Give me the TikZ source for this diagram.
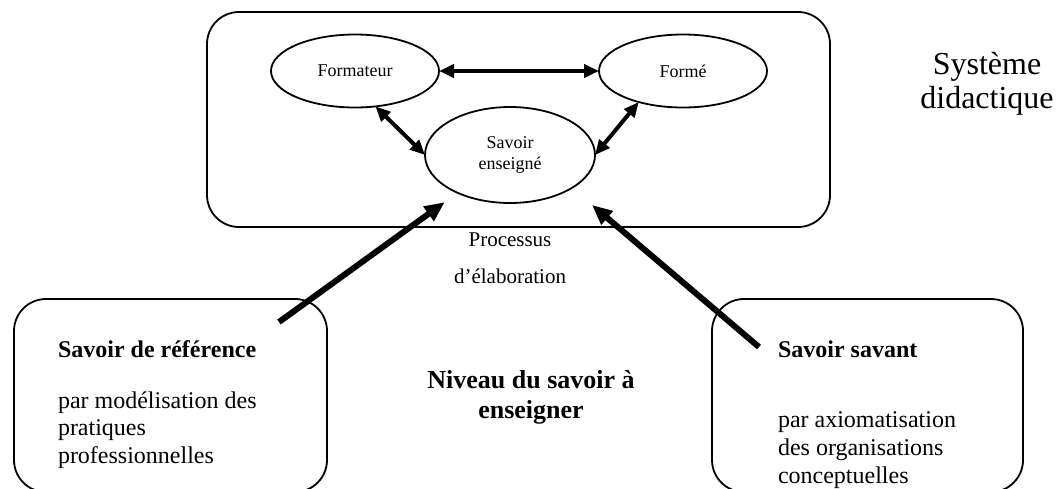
\documentclass[tikz,border=0pt]{standalone}
\usepackage{fontspec}
\setmainfont{Liberation Serif}
\usetikzlibrary{shapes.geometric,arrows.meta}
\begin{document}
\begin{tikzpicture}[x=0.5pt,y=-0.5pt,line width=0.9pt,every node/.style={inner sep=0,outer sep=0},
  role/.style={ellipse,draw,minimum width=84pt,minimum height=36.5pt,align=center,font=\fontsize{9}{10.5}\selectfont},
  panel/.style={draw,rounded corners=16pt},
  link/.style={{Triangle[length=7.5pt,width=6.5pt]}-{Triangle[length=7.5pt,width=6.5pt]},line width=2pt},
  feed/.style={-{Triangle[length=10pt,width=8.5pt]},line width=3pt},
  body/.style={anchor=west,align=left,font=\fontsize{12}{13.8}\selectfont}]
\useasboundingbox (0,0) rectangle (1058,488);
\node (sysbox) [panel,minimum width=311.5pt,minimum height=107.5pt] at (518.5,119.5) {};
\node (formateur) [role] at (355,71) {Formateur};
\node (forme) [role] at (683,71) {Formé};
\node (savoir) [role,minimum width=85pt,minimum height=48pt] at (510,155) {Savoir\\enseigné};
\draw [link] (formateur) -- (forme);
\draw [link] (formateur.-60) -- (savoir.west);
\draw [link] (forme.-145) -- (savoir.east);
\node (systeme) [align=center,font=\fontsize{16}{17}\selectfont] at (987,84) {Système\\didactique};
\node (process) [align=center,font=\fontsize{10.5}{12}\selectfont] at (510,258) {Processus\\[6.5pt]d’élaboration};

\node (refbox) [panel,minimum width=156.5pt,minimum height=96.5pt] at (170.5,395.5) {};
\node (reftitle) [body,font=\fontsize{12}{13.8}\selectfont\bfseries] at (58,349) {Savoir de référence};
\node (refbody) [body] at (58,430) {par modélisation des\\pratiques\\professionnelles};
\node (savbox) [panel,minimum width=155.5pt,minimum height=96.5pt] at (867.5,395.5) {};
\node (savtitle) [body,font=\fontsize{12}{13.8}\selectfont\bfseries] at (778,349) {Savoir savant};
\node (savbody) [body] at (778,450) {par axiomatisation\\des organisations\\conceptuelles};
\node (niveau) [align=center,font=\fontsize{13}{15}\selectfont\bfseries] at (531,397) {Niveau du savoir à\\enseigner};

\coordinate (reftail) at (279,322); \draw [feed,shorten >=8pt] (reftail) -- (savoir);
\coordinate (savtail) at (759,347); \coordinate (savtip) at (592,205); \draw [feed] (savtail) -- (savtip);
\end{tikzpicture}
\end{document}
